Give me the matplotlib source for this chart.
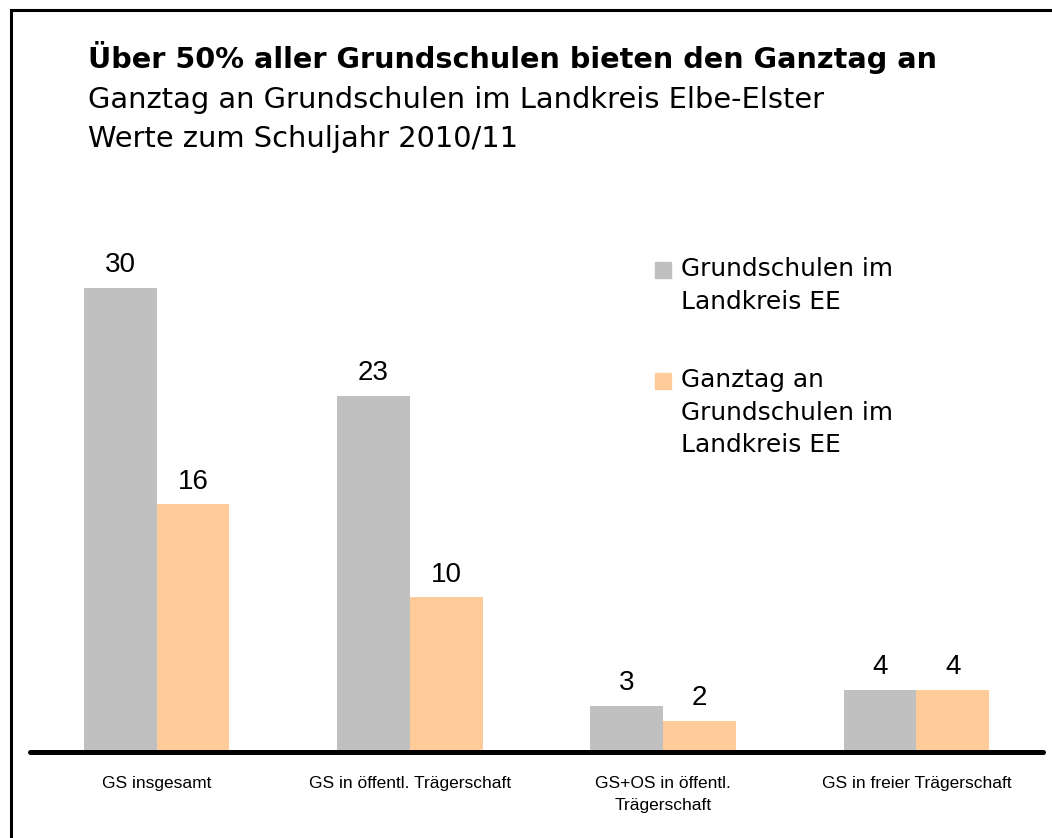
import matplotlib
matplotlib.use("Agg")
import matplotlib.pyplot as plt
from matplotlib.lines import Line2D
from matplotlib.patches import Rectangle
import numpy as np

categories = ["GS insgesamt", "GS in öffentl. Trägerschaft",
              "GS+OS in öffentl.\nTrägerschaft", "GS in freier Trägerschaft"]
series_names = ["Grundschulen im\nLandkreis EE", "Ganztag an\nGrundschulen im\nLandkreis EE"]
grundschulen = [30, 23, 3, 4]
ganztag = [16, 10, 2, 4]
colors = ["#C0C0C0", "#FFCC99"]

W, H = 1052, 838
fig = plt.figure(figsize=(W / 100, H / 100), dpi=100)

def fx(px):
    return px / W

def fy(py):
    return 1 - py / H

ax = fig.add_axes([fx(30), fy(752), fx(1043) - fx(30), fy(195) - fy(752)])
x = np.arange(len(categories))
w = 0.287
b1 = ax.bar(x - w / 2, grundschulen, w, color=colors[0], zorder=2)
b2 = ax.bar(x + w / 2, ganztag, w, color=colors[1], zorder=2)
for bars in (b1, b2):
    ax.bar_label(bars, padding=7, fontsize=20, family="Liberation Sans")

ax.set_xlim(-0.5, len(categories) - 0.5)
ax.set_ylim(0, 36)
ax.set_xticks(x)
ax.set_xticklabels(categories, fontsize=12.5, family="Liberation Sans", va="top",
                   linespacing=1.65)
ax.tick_params(axis="x", length=0, pad=17)
ax.set_yticks([])
for s in ("left", "right", "top"):
    ax.spines[s].set_visible(False)
ax.spines["bottom"].set_linewidth(3.6)
ax.spines["bottom"].set_capstyle("round")
ax.spines["bottom"].set_zorder(3)

# titles
fig.text(fx(88), fy(58), "Über 50% aller Grundschulen bieten den Ganztag an",
         fontsize=20.7, fontweight="bold", family="DejaVu Sans", va="center", ha="left")
fig.text(fx(88), fy(100), "Ganztag an Grundschulen im Landkreis Elbe-Elster",
         fontsize=20.8, family="DejaVu Sans", va="center", ha="left")
fig.text(fx(88), fy(139), "Werte zum Schuljahr 2010/11",
         fontsize=20.8, family="DejaVu Sans", va="center", ha="left")

# legend
leg_y = [262, 373]
for name, col, yy in zip(series_names, colors, leg_y):
    fig.patches.append(Rectangle((fx(655), fy(yy + 16)), fx(16), fy(yy) - fy(yy + 16),
                                 transform=fig.transFigure, color=col))
    fig.text(fx(681), fy(yy - 5), name, fontsize=17.9, family="DejaVu Sans",
             va="top", ha="left", linespacing=1.45)

# frame (top and left edges)
fig.add_artist(Line2D([fx(10.5), 1], [fy(10.5), fy(10.5)], color="black", lw=2.2,
                      transform=fig.transFigure))
fig.add_artist(Line2D([fx(10.5), fx(10.5)], [0, fy(10.5)], color="black", lw=2.2,
                      transform=fig.transFigure))

fig.savefig("out.png", dpi=100)
